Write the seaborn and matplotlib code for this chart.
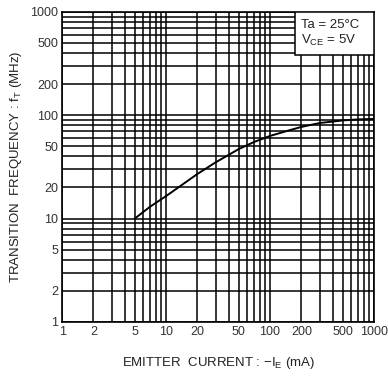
import matplotlib
matplotlib.use("Agg")
import matplotlib.pyplot as plt
import matplotlib.ticker as mticker
import numpy as np
import pandas as pd
import seaborn as sns
from matplotlib.patches import Rectangle

# fT vs emitter current
emitter_current = [5, 7, 10, 15, 20, 30, 50, 70, 100, 150, 200, 300, 500, 700, 1000]
transition_freq = [10, 13, 16.5, 22, 27, 35, 47, 55, 63, 71, 77, 84, 89, 91, 92]

tick_values = [1, 2, 5, 10, 20, 50, 100, 200, 500, 1000]
tick_labels = ["1", "2", "5", "10", "20", "50", "100", "200", "500", "1000"]

sns.set_style("white")
plt.rcParams["font.family"] = ["Liberation Sans", "DejaVu Sans"]
plt.rcParams["mathtext.fontset"] = "custom"
plt.rcParams["mathtext.rm"] = "Liberation Sans"

df = pd.DataFrame({"ie": emitter_current, "ft": transition_freq})

fig = plt.figure(figsize=(3.88, 3.81), dpi=100)
ax = fig.add_axes([0.160, 0.155, 0.804, 0.814])

sns.lineplot(data=df, x="ie", y="ft", ax=ax, color="black", linewidth=1.4)

ax.set_xscale("log")
ax.set_yscale("log")
ax.set_xlim(1, 1000)
ax.set_ylim(1, 1000)

for axis in (ax.xaxis, ax.yaxis):
    axis.set_major_locator(mticker.FixedLocator(tick_values))
    axis.set_major_formatter(mticker.FixedFormatter(tick_labels))
    axis.set_minor_locator(mticker.LogLocator(base=10, subs=np.arange(1, 10)))
    axis.set_minor_formatter(mticker.NullFormatter())

ax.grid(True, which="both", color="black", linewidth=1.1)
ax.tick_params(which="both", length=0, labelsize=9, labelcolor="#333333", pad=3)
for s in ax.spines.values():
    s.set_color("black")
    s.set_linewidth(1.2)

ax.set_xlabel(r"EMITTER  CURRENT : $-$I$_\mathregular{E}$ (mA)", fontsize=9.5,
              color="#222222", labelpad=12)
ax.set_ylabel(r"TRANSITION  FREQUENCY : f$_\mathregular{T}$ (MHz)", fontsize=9.5,
              color="#222222", labelpad=4)

# condition box pinned to the top-right corner
ax.add_patch(Rectangle((0.747, 0.861), 0.253, 0.139, transform=ax.transAxes,
                       facecolor="white", edgecolor="black", linewidth=1.1, zorder=5))
ax.text(0.765, 0.93, "Ta = 25°C\nV$_\\mathregular{CE}$ = 5V", transform=ax.transAxes,
        ha="left", va="center", fontsize=9.5, color="#222222", linespacing=1.15,
        zorder=6)

fig.savefig("out.png", dpi=100)
